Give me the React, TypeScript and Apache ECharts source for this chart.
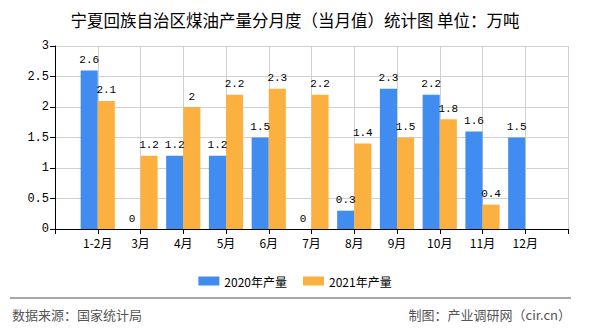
import React, { useEffect, useRef } from "react";
import * as echarts from "echarts";

const categories = ["", "1-2月", "3月", "4月", "5月", "6月", "7月", "8月", "9月", "10月", "11月", "12月", ""];
const values2020: (number | null)[] = [null, 2.6, 0, 1.2, 1.2, 1.5, 0, 0.3, 2.3, 2.2, 1.6, 1.5, null];
const values2021: (number | null)[] = [null, 2.1, 1.2, 2, 2.2, 2.3, 2.2, 1.4, 1.5, 1.8, 0.4, null, null];
const seriesNames = ["2020年产量", "2021年产量"];
const yTicks = { min: 0, max: 3, interval: 0.5 };

export default function App() {
  const ref = useRef<HTMLDivElement>(null);
  useEffect(() => {
    if (!ref.current) return;
    const chart = echarts.init(ref.current, null, { renderer: "svg" });
    const mono = "'Liberation Mono', 'DejaVu Sans Mono', monospace";
    const cjk = "'Noto Sans CJK SC', sans-serif";
    const labelStyle = {
      show: true,
      position: "top" as const,
      distance: 5,
      color: "#000",
      fontFamily: mono,
      fontSize: 11,
    };
    chart.setOption({
      animation: false,
      backgroundColor: "#fff",
      title: {
        text: "宁夏回族自治区煤油产量分月度（当月值）统计图 单位：万吨",
        left: "center",
        top: 7,
        textStyle: { fontSize: 16.5, fontWeight: "normal", color: "#000", fontFamily: cjk },
      },
      legend: {
        data: seriesNames,
        top: 270,
        left: "center",
        itemWidth: 21,
        itemHeight: 9,
        itemGap: 16,
        icon: "rect",
        textStyle: { fontSize: 12, color: "#000", fontFamily: cjk },
      },
      grid: { left: 55, right: 22, top: 46, bottom: 101 },
      xAxis: {
        type: "category",
        data: categories,
        boundaryGap: false,
        axisLine: { lineStyle: { color: "#000", width: 1 } },
        axisTick: { show: true, length: 5, lineStyle: { color: "#000" } },
        axisLabel: { color: "#000", fontSize: 12, margin: 7, interval: 0, fontFamily: cjk },
        splitLine: { show: true, lineStyle: { color: "#d0d0d0", width: 1 } },
      },
      yAxis: {
        type: "value",
        min: yTicks.min,
        max: yTicks.max,
        interval: yTicks.interval,
        axisLine: { show: true, lineStyle: { color: "#000", width: 1 } },
        axisTick: { show: true, length: 5, lineStyle: { color: "#000" } },
        axisLabel: { color: "#000", fontSize: 12, margin: 6, fontFamily: mono },
        splitLine: { show: true, lineStyle: { color: "#d0d0d0", width: 1 } },
      },
      series: [
        {
          name: seriesNames[0],
          type: "bar",
          data: values2020,
          barGap: "0%",
          barCategoryGap: "20%",
          itemStyle: { color: "#418cf0" },
          label: labelStyle,
        },
        {
          name: seriesNames[1],
          type: "bar",
          data: values2021,
          barGap: "0%",
          barCategoryGap: "20%",
          itemStyle: { color: "#fcb040" },
          label: labelStyle,
        },
      ],
      graphic: [
        { type: "line", shape: { x1: 10, y1: 298, x2: 571, y2: 298 }, style: { stroke: "#888", lineWidth: 1.5 } },
        {
          type: "text",
          left: 12,
          top: 308,
          style: { text: "数据来源：国家统计局", fontSize: 13, fill: "#555", fontFamily: cjk },
        },
        {
          type: "text",
          right: 19,
          top: 308,
          style: { text: "制图：产业调研网（cir.cn）", fontSize: 13, fill: "#555", fontFamily: cjk },
        },
      ],
    });
    return () => chart.dispose();
  }, []);
  return <div ref={ref} style={{ width: 590, height: 330, position: "absolute", left: 0, top: 0 }} />;
}
